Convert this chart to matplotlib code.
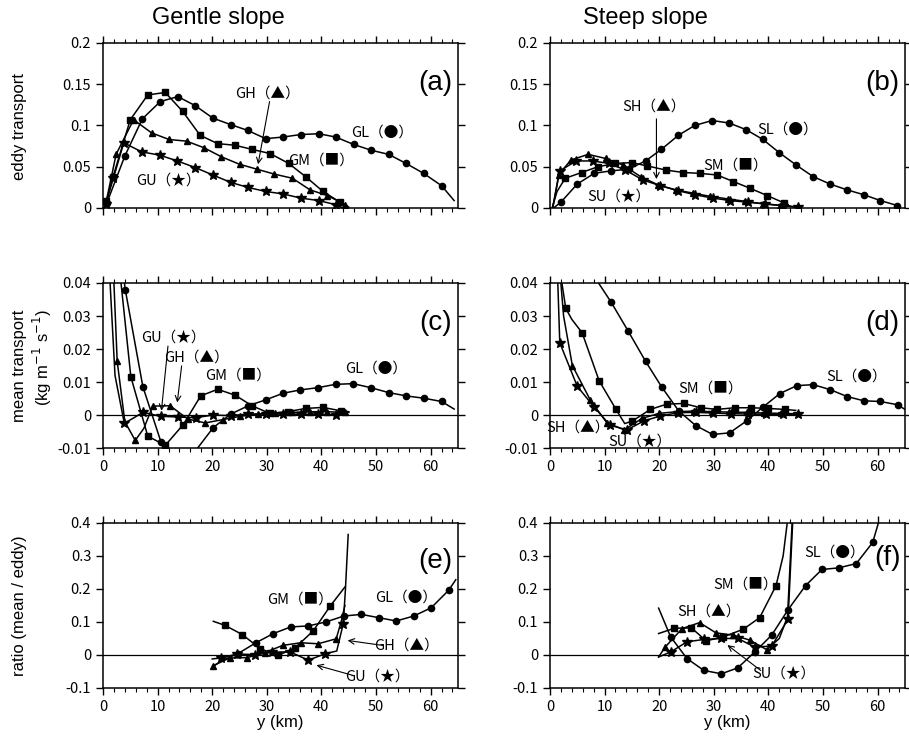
import matplotlib
matplotlib.use('Agg')
import matplotlib.pyplot as plt
from matplotlib.ticker import MultipleLocator, FuncFormatter

# ---------------- (a) gentle slope, eddy transport
a_gl_x = [0.7, 4.0, 7.2, 10.5, 13.7, 16.9, 20.1, 23.4, 26.5, 29.8, 33.0, 36.2, 39.5, 42.6, 45.9, 49.1, 52.3, 55.5, 58.7, 62.0, 64.3]
a_gl_y = [0.006, 0.063, 0.108, 0.129, 0.135, 0.124, 0.109, 0.101, 0.094, 0.084, 0.086, 0.089, 0.090, 0.086, 0.077, 0.070, 0.065, 0.054, 0.042, 0.027, 0.009]
a_gm_x = [0.6, 1.8, 5.0, 8.2, 11.4, 14.6, 17.8, 21.0, 24.2, 27.3, 30.6, 34.0, 37.1, 40.3, 43.4, 44.3]
a_gm_y = [0.008, 0.037, 0.107, 0.137, 0.140, 0.117, 0.088, 0.078, 0.076, 0.071, 0.066, 0.054, 0.038, 0.020, 0.007, 0.002]
a_gh_x = [0.6, 2.4, 5.6, 8.9, 12.1, 15.3, 18.5, 21.7, 25.0, 28.2, 31.4, 34.7, 37.9, 41.1, 44.4, 45.0]
a_gh_y = [0.008, 0.065, 0.107, 0.091, 0.083, 0.081, 0.073, 0.062, 0.053, 0.047, 0.041, 0.036, 0.022, 0.015, 0.004, 0.001]
a_gu_x = [0.5, 1.9, 3.8, 7.1, 10.4, 13.6, 16.9, 20.1, 23.4, 26.5, 29.8, 33.0, 36.2, 39.5, 42.6, 44.0]
a_gu_y = [0.005, 0.036, 0.079, 0.068, 0.064, 0.057, 0.049, 0.040, 0.031, 0.025, 0.020, 0.017, 0.012, 0.009, 0.004, 0.0]

# ---------------- (b) steep slope, eddy transport
b_sl_x = [0.3, 2.0, 5.0, 8.1, 11.2, 14.4, 17.5, 20.4, 23.5, 26.5, 29.7, 32.8, 35.9, 39.0, 42.0, 45.1, 48.2, 51.3, 54.4, 57.5, 60.5, 63.6]
b_sl_y = [-0.002, 0.007, 0.029, 0.042, 0.045, 0.047, 0.057, 0.071, 0.088, 0.100, 0.106, 0.103, 0.095, 0.083, 0.067, 0.052, 0.038, 0.029, 0.022, 0.016, 0.009, 0.003]
b_sm_x = [0.4, 1.3, 2.8, 5.8, 8.8, 12.0, 15.0, 17.8, 21.2, 24.4, 27.4, 30.6, 33.6, 36.6, 39.8, 42.9, 44.0]
b_sm_y = [0.0, 0.020, 0.036, 0.043, 0.050, 0.054, 0.055, 0.051, 0.046, 0.043, 0.042, 0.040, 0.032, 0.024, 0.015, 0.006, 0.002]
b_sh_x = [0.5, 1.6, 3.8, 7.0, 10.2, 13.4, 16.6, 19.8, 23.0, 26.2, 29.4, 32.6, 35.8, 39.0, 42.2, 45.4]
b_sh_y = [0.0, 0.040, 0.058, 0.065, 0.060, 0.052, 0.038, 0.028, 0.022, 0.018, 0.014, 0.011, 0.008, 0.005, 0.003, 0.001]
b_su_x = [0.5, 1.8, 4.8, 7.8, 10.8, 13.8, 17.0, 20.2, 23.4, 26.6, 29.8, 33.0, 36.2, 39.4, 42.6, 45.4]
b_su_y = [0.0, 0.045, 0.057, 0.057, 0.054, 0.046, 0.034, 0.027, 0.021, 0.016, 0.012, 0.009, 0.007, 0.005, 0.003, 0.001]

# ---------------- (c) gentle slope, mean transport
c_gl_x = [3.5, 4.1, 7.3, 10.6, 12.5, 14.5, 16.5, 20.2, 23.4, 26.6, 29.8, 33.0, 36.1, 39.4, 42.6, 45.8, 49.0, 52.3, 55.5, 58.7, 62.0, 64.3]
c_gl_y = [0.045, 0.0378, 0.0086, -0.0081, -0.0135, -0.0150, -0.0118, -0.0038, 0.0003, 0.0028, 0.0046, 0.0066, 0.0076, 0.0083, 0.0093, 0.0095, 0.0083, 0.0068, 0.0058, 0.0051, 0.0041, 0.0018]
c_gm_x = [2.6, 3.3, 5.1, 8.2, 11.4, 14.7, 17.9, 21.0, 24.2, 27.3, 30.5, 33.8, 37.1, 40.3, 43.5, 45.0]
c_gm_y = [0.050, 0.040, 0.0116, -0.0064, -0.0092, -0.0029, 0.0058, 0.0078, 0.0060, 0.0028, 0.0005, 0.0010, 0.0020, 0.0023, 0.0013, 0.0010]
c_gh_x = [1.6, 2.0, 2.6, 4.0, 5.9, 7.5, 9.1, 12.3, 15.5, 18.7, 21.9, 25.1, 28.3, 31.5, 34.7, 37.9, 41.1, 44.3, 45.0]
c_gh_y = [0.060, 0.040, 0.0163, -0.0020, -0.0077, -0.0040, 0.0027, 0.0028, -0.0012, -0.0024, -0.0014, -0.0004, 0.0003, 0.0006, 0.0008, 0.0010, 0.0010, 0.0008, 0.0008]
c_gu_x = [1.0, 1.3, 2.2, 3.9, 5.5, 7.3, 10.6, 13.8, 17.0, 20.2, 23.4, 26.6, 29.8, 33.0, 36.2, 39.4, 42.6, 44.5]
c_gu_y = [0.060, 0.040, 0.012, -0.0025, -0.0010, 0.0008, -0.0004, -0.0006, -0.0008, 0.0000, -0.0002, 0.0003, 0.0003, 0.0003, 0.0002, 0.0002, 0.0001, 0.0001]

# ---------------- (d) steep slope, mean transport
d_sl_x = [8.5, 11.2, 14.3, 17.5, 20.5, 23.6, 26.7, 29.8, 32.9, 36.0, 39.0, 42.1, 45.2, 48.2, 51.3, 54.4, 57.5, 60.5, 63.7, 65.0]
d_sl_y = [0.041, 0.0342, 0.0255, 0.0163, 0.0084, 0.0012, -0.0032, -0.0059, -0.0054, -0.0018, 0.0024, 0.0065, 0.0089, 0.0092, 0.0077, 0.0056, 0.0043, 0.0041, 0.0031, 0.0017]
d_sm_x = [2.0, 2.9, 4.0, 5.9, 9.0, 12.1, 13.7, 15.1, 18.4, 21.4, 24.5, 27.6, 30.6, 33.8, 36.9, 39.9, 43.0, 45.0]
d_sm_y = [0.042, 0.0323, 0.0290, 0.0249, 0.0104, 0.0017, -0.0026, -0.0018, 0.0017, 0.0033, 0.0035, 0.0022, 0.0017, 0.0022, 0.0022, 0.0020, 0.0017, 0.0014]
d_sh_x = [1.9, 2.5, 4.1, 7.4, 10.4, 13.6, 16.9, 20.0, 23.2, 26.4, 29.6, 32.8, 36.0, 39.2, 42.4, 45.0]
d_sh_y = [0.042, 0.030, 0.015, 0.0045, -0.0023, -0.0045, -0.0010, 0.0005, 0.0010, 0.0012, 0.0010, 0.0009, 0.0008, 0.0006, 0.0005, 0.0004]
d_su_x = [1.4, 1.8, 5.0, 8.1, 11.0, 14.1, 17.2, 20.2, 23.5, 26.7, 29.9, 33.1, 36.3, 39.5, 42.7, 45.4]
d_su_y = [0.042, 0.0219, 0.0087, 0.0024, -0.0031, -0.0045, -0.0018, -0.0003, 0.0007, 0.0008, 0.0006, 0.0004, 0.0003, 0.0002, 0.0002, 0.0002]

# ---------------- (e) gentle slope, ratio
e_gl_x = [20.2, 21.6, 24.7, 28.0, 31.2, 34.4, 37.6, 40.8, 44.1, 47.3, 50.5, 53.7, 56.9, 60.1, 63.3, 64.6]
e_gl_y = [-0.035, -0.018, 0.004, 0.037, 0.065, 0.085, 0.088, 0.100, 0.118, 0.123, 0.113, 0.103, 0.118, 0.143, 0.196, 0.228]
e_gm_x = [20.2, 22.3, 25.5, 28.8, 32.1, 35.2, 38.5, 41.6, 44.3]
e_gm_y = [0.102, 0.090, 0.062, 0.019, -0.001, 0.022, 0.073, 0.148, 0.206]
e_gh_x = [20.1, 23.2, 26.4, 29.6, 32.9, 36.2, 39.4, 42.7, 43.6, 44.3]
e_gh_y = [-0.033, -0.009, -0.008, 0.007, 0.029, 0.037, 0.034, 0.049, 0.100, 0.150]
e_gu_x = [20.0, 21.6, 24.6, 27.9, 31.0, 34.2, 37.6, 40.7, 42.8, 44.0, 44.4, 44.9]
e_gu_y = [-0.012, -0.009, 0.003, 0.001, 0.008, 0.010, -0.016, 0.004, 0.012, 0.095, 0.200, 0.365]

# ---------------- (f) steep slope, ratio
f_sl_x = [19.9, 22.1, 25.1, 28.2, 31.4, 34.4, 37.5, 40.6, 43.6, 46.8, 49.8, 52.9, 56.1, 59.1, 60.5]
f_sl_y = [0.142, 0.055, -0.011, -0.047, -0.057, -0.039, 0.009, 0.060, 0.137, 0.210, 0.259, 0.264, 0.277, 0.341, 0.420]
f_sm_x = [19.9, 22.8, 25.9, 28.6, 31.6, 35.4, 38.4, 41.4, 42.7, 43.6]
f_sm_y = [0.065, 0.081, 0.082, 0.043, 0.054, 0.078, 0.113, 0.210, 0.300, 0.420]
f_sh_x = [19.9, 21.1, 24.2, 27.4, 30.4, 33.6, 36.6, 39.7, 42.0, 43.5, 44.4]
f_sh_y = [-0.006, 0.024, 0.080, 0.098, 0.067, 0.060, 0.045, 0.016, 0.050, 0.116, 0.420]
f_su_x = [19.9, 22.1, 25.1, 28.2, 31.4, 34.4, 37.5, 40.6, 43.6, 44.5]
f_su_y = [-0.006, 0.009, 0.040, 0.047, 0.050, 0.050, 0.024, 0.027, 0.108, 0.420]

LABEL_FONT = ['Noto Sans CJK JP', 'DejaVu Sans']
MARK = {'o': 4.5, 's': 4.2, '^': 5, '*': 7}


def curve(ax, x, y, marker, skip):
    keep = [i for i in range(len(x)) if i not in skip]
    ax.plot(x, y, color='k', lw=1.1, marker=marker, ms=MARK[marker],
            markevery=keep, mec='k', mfc='k')


def tag(ax, x, y, s):
    ax.text(x, y, s, ha='center', va='center', fontsize=10.5, family=LABEL_FONT)


def arrow(ax, tail, tip):
    ax.annotate('', xy=tip, xytext=tail,
                arrowprops=dict(arrowstyle='->', lw=0.8, color='k', shrinkA=0, shrinkB=0))


def setup(ax, ylim, ystep, letter, letter_pos, xlabels, zero_line):
    ax.set_xlim(0, 65)
    ax.set_ylim(*ylim)
    ax.xaxis.set_major_locator(MultipleLocator(10))
    ax.xaxis.set_minor_locator(MultipleLocator(2))
    ax.yaxis.set_major_locator(MultipleLocator(ystep))
    ax.yaxis.set_major_formatter(FuncFormatter(lambda v, p: '%g' % round(v, 4)))
    ax.tick_params(which='both', direction='out', top=True, right=True, labelsize=10.5)
    ax.tick_params(which='major', length=5, width=1)
    ax.tick_params(which='minor', length=3, width=0.8)
    if not xlabels:
        ax.tick_params(labelbottom=False)
    for lab in ax.get_xticklabels() + ax.get_yticklabels():
        lab.set_family(LABEL_FONT)
    if zero_line:
        ax.axhline(0, color='k', lw=0.9)
    for s in ax.spines.values():
        s.set_linewidth(1.1)
    ax.text(letter_pos[0], letter_pos[1], letter, transform=ax.transAxes, ha='center',
            va='center', fontsize=20, family='Liberation Sans')


fig = plt.figure(figsize=(9.09, 7.42), dpi=100)
lx, rx, w = 0.1133, 0.605, 0.3905
rows = [0.7197, 0.3962, 0.0728]
h = 0.2224
ax_a = fig.add_axes([lx, rows[0], w, h])
ax_b = fig.add_axes([rx, rows[0], w, h])
ax_c = fig.add_axes([lx, rows[1], w, h])
ax_d = fig.add_axes([rx, rows[1], w, h])
ax_e = fig.add_axes([lx, rows[2], w, h])
ax_f = fig.add_axes([rx, rows[2], w, h])

# (a)
setup(ax_a, (0, 0.2), 0.05, '(a)', (0.937, 0.757), False, False)
curve(ax_a, a_gl_x, a_gl_y, 'o', [20])
curve(ax_a, a_gm_x, a_gm_y, 's', [15])
curve(ax_a, a_gh_x, a_gh_y, '^', [15])
curve(ax_a, a_gu_x, a_gu_y, '*', [15])
tag(ax_a, 30.2, 0.139, 'GH（▲）')
arrow(ax_a, (30.5, 0.129), (28.4, 0.053))
tag(ax_a, 51.2, 0.091, 'GL（●）')
tag(ax_a, 40.0, 0.057, 'GM（■）')
tag(ax_a, 12.0, 0.033, 'GU（★）')

# (b)
setup(ax_b, (0, 0.2), 0.05, '(b)', (0.937, 0.755), False, False)
curve(ax_b, b_sl_x, b_sl_y, 'o', [0])
curve(ax_b, b_sm_x, b_sm_y, 's', [0, 1, 16])
curve(ax_b, b_sh_x, b_sh_y, '^', [0])
curve(ax_b, b_su_x, b_su_y, '*', [0])
tag(ax_b, 19.0, 0.123, 'SH（▲）')
arrow(ax_b, (19.5, 0.108), (19.5, 0.035))
tag(ax_b, 43.5, 0.095, 'SL（●）')
tag(ax_b, 34.0, 0.051, 'SM（■）')
tag(ax_b, 12.6, 0.0135, 'SU（★）')

# (c)
setup(ax_c, (-0.01, 0.04), 0.01, '(c)', (0.937, 0.757), True, True)
curve(ax_c, c_gl_x, c_gl_y, 'o', [0, 4, 5, 6, 21])
curve(ax_c, c_gm_x, c_gm_y, 's', [0, 1, 15])
curve(ax_c, c_gh_x, c_gh_y, '^', [0, 1, 3, 5, 18])
curve(ax_c, c_gu_x, c_gu_y, '*', [0, 1, 2, 4, 17])
tag(ax_c, 12.9, 0.0234, 'GU（★）')
arrow(ax_c, (11.9, 0.0209), (10.7, 0.0013))
tag(ax_c, 17.1, 0.0174, 'GH（▲）')
arrow(ax_c, (14.4, 0.0149), (13.6, 0.0038))
tag(ax_c, 24.7, 0.0120, 'GM（■）')
tag(ax_c, 50.0, 0.0141, 'GL（●）')

# (d)
setup(ax_d, (-0.01, 0.04), 0.01, '(d)', (0.937, 0.755), True, True)
curve(ax_d, d_sl_x, d_sl_y, 'o', [0, 19])
curve(ax_d, d_sm_x, d_sm_y, 's', [0, 2, 6, 17])
curve(ax_d, d_sh_x, d_sh_y, '^', [0, 1, 15])
curve(ax_d, d_su_x, d_su_y, '*', [0])
tag(ax_d, 29.4, 0.0079, 'SM（■）')
tag(ax_d, 56.1, 0.0116, 'SL（●）')
tag(ax_d, 5.2, -0.0039, 'SH（▲）')
tag(ax_d, 16.5, -0.0080, 'SU（★）')

# (e)
setup(ax_e, (-0.1, 0.4), 0.1, '(e)', (0.937, 0.772), True, True)
curve(ax_e, e_gl_x, e_gl_y, 'o', [0, 1, 15])
curve(ax_e, e_gm_x, e_gm_y, 's', [0, 8])
curve(ax_e, e_gh_x, e_gh_y, '^', [8, 9])
curve(ax_e, e_gu_x, e_gu_y, '*', [0, 8, 10, 11])
tag(ax_e, 36.0, 0.168, 'GM（■）')
tag(ax_e, 55.5, 0.175, 'GL（●）')
tag(ax_e, 55.5, 0.029, 'GH（▲）')
arrow(ax_e, (51.2, 0.029), (44.8, 0.044))
tag(ax_e, 50.3, -0.067, 'GU（★）')
arrow(ax_e, (45.8, -0.062), (39.1, -0.031))

# (f)
setup(ax_f, (-0.1, 0.4), 0.1, '(f)', (0.951, 0.79), True, True)
curve(ax_f, f_sl_x, f_sl_y, 'o', [0, 14])
curve(ax_f, f_sm_x, f_sm_y, 's', [0, 8, 9])
curve(ax_f, f_sh_x, f_sh_y, '^', [0, 8, 9, 10])
curve(ax_f, f_su_x, f_su_y, '*', [0, 9])
tag(ax_f, 52.1, 0.310, 'SL（●）')
tag(ax_f, 35.8, 0.213, 'SM（■）')
tag(ax_f, 29.1, 0.132, 'SH（▲）')
tag(ax_f, 42.9, -0.057, 'SU（★）')
arrow(ax_f, (38.6, -0.047), (32.5, 0.030))

for ax in (ax_e, ax_f):
    ax.set_xlabel('y (km)', fontsize=12, family='Liberation Sans', labelpad=1)

fig.text(218 / 909, 1 - 18 / 742, 'Gentle slope', ha='center', va='center',
         fontsize=17, family='Liberation Sans')
fig.text(645 / 909, 1 - 18 / 742, 'Steep slope', ha='center', va='center',
         fontsize=17, family='Liberation Sans')
fig.text(20 / 909, 1 - 126 / 742, 'eddy transport', rotation=90, ha='center',
         va='center', fontsize=12, family='Liberation Sans')
fig.text(20 / 909, 1 - 366 / 742, 'mean transport', rotation=90, ha='center',
         va='center', fontsize=12, family='Liberation Sans')
fig.text(42 / 909, 1 - 358 / 742, '(kg m$^{-1}$ s$^{-1}$)', rotation=90, ha='center',
         va='center', fontsize=12, family='Liberation Sans')
fig.text(20 / 909, 1 - 606 / 742, 'ratio (mean / eddy)', rotation=90, ha='center',
         va='center', fontsize=12, family='Liberation Sans')

fig.savefig('out.png', dpi=100)
